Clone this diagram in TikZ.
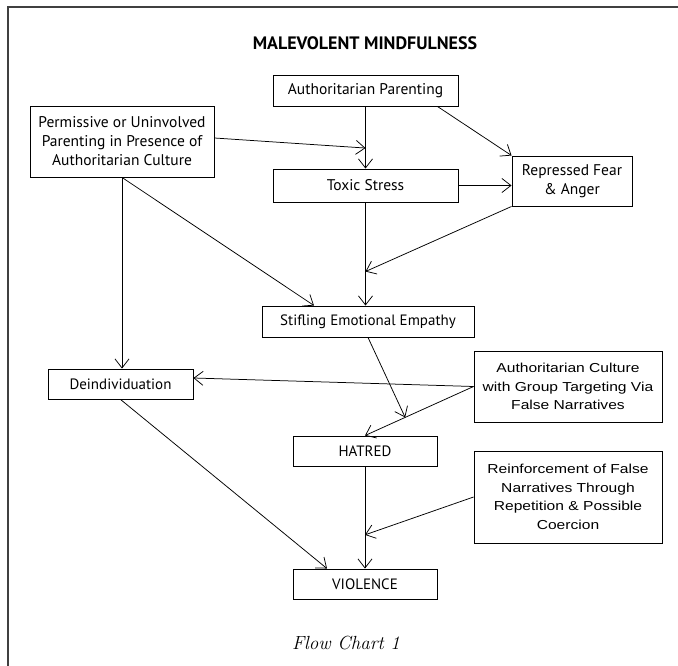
\documentclass[tikz,border=0pt]{standalone}
\usepackage{fontspec}
\newfontfamily\myriad{PT Sans}
\newfontfamily\helv[FakeStretch=1.2]{Liberation Sans}
\usetikzlibrary{positioning, calc, arrows.meta}
\tikzset{
	box/.style={draw, rectangle, line width=0.9pt, inner sep=2pt, text centered, align=center, font=\myriad\fontsize{15.5}{19}\selectfont},
	slimbox/.style={box, font=\myriad\fontsize{15}{18}\selectfont},
	% the two boxes on the right are set in a wider sans
	widebox/.style={box, font=\helv\fontsize{13}{18.5}\selectfont},
}
\begin{document}
\begin{tikzpicture}[x=1pt, y=-1pt]
\useasboundingbox (0,0) rectangle (678,666);
\draw[line width=2pt, black!75] (8,666) -- (8,7) -- (678,7);

\node (title) at (365,43) {\myriad\bfseries\fontsize{18}{22}\selectfont MALEVOLENT MINDFULNESS};

\node (authpar) [box, minimum width=185pt, minimum height=31pt] at (365.5,90.5) {Authoritarian Parenting};

\node (permissive) [box, minimum width=184pt, minimum height=71pt] at (122,141.5) {Permissive or Uninvolved\\Parenting in Presence of\\Authoritarian Culture};

\node (toxic) [box, minimum width=185pt, minimum height=33pt] at (365.5,185.5) {Toxic Stress};

\node (repressed) [box, minimum width=120pt, minimum height=50pt] at (572,181) {Repressed Fear\\\& Anger};

\node (stifling) [slimbox, minimum width=212pt, minimum height=31pt] at (368,321.5) {Stifling Emotional Empathy};

\node (deind) [slimbox, minimum width=145pt, minimum height=30pt] at (120.5,384) {Deindividuation};

\node (culture) [widebox, minimum width=188pt, minimum height=71pt] at (568,386.5) {Authoritarian Culture\\with Group Targeting Via\\False Narratives};

\node (hatred) [slimbox, minimum width=144pt, minimum height=30pt] at (365,451) {HATRED};

\node (reinforce) [widebox, minimum width=188pt, minimum height=92pt] at (568,497) {Reinforcement of False\\Narratives Through\\Repetition \& Possible\\Coercion};

\node (violence) [slimbox, minimum width=144pt, minimum height=30pt] at (365,584) {VIOLENCE};

\node (caption) at (346,643) {\itshape\fontsize{19}{23}\selectfont Flow Chart 1};

% points where arrows meet other arrows
\coordinate (apjoin) at ($(authpar.south)!0.67!(toxic.north)$);
\coordinate (tsjoin) at ($(toxic.south)!0.67!(toxic.south |- stifling.north)$);
\coordinate (acjoin) at ($(culture.west)!0.63!(hatred.north)$);
\coordinate (hvjoin) at ($(hatred.south)!0.67!(hatred.south |- violence.north)$);

\begin{scope}[line width=0.75pt, black, ->, >={Straight Barb[length=9pt, width=14pt]}]
	\draw (authpar.south) -- (toxic.north);
	\draw ([yshift=3.5pt]permissive.east) -- (apjoin);
	\draw ([xshift=-21pt]authpar.south east) -- (repressed.north west);
	\draw (toxic.east) -- (toxic.east -| repressed.west);
	\draw (toxic.south) -- (toxic.south |- stifling.north);
	\draw (repressed.south west) -- (tsjoin);
	\draw (permissive.south) -- ([xshift=-54pt]stifling.north);
	\draw (permissive.south) -- (permissive.south |- deind.north);
	\draw (culture.west) -- ([yshift=6pt]deind.east);
	\draw (culture.west) -- (hatred.north);
	\draw (stifling.south) -- (acjoin);
	\draw (hatred.south) -- (violence.north);
	\draw (reinforce.west) -- (hvjoin);
	\draw (deind.south) -- ([xshift=-38pt]violence.north);
\end{scope}
\end{tikzpicture}
\end{document}
